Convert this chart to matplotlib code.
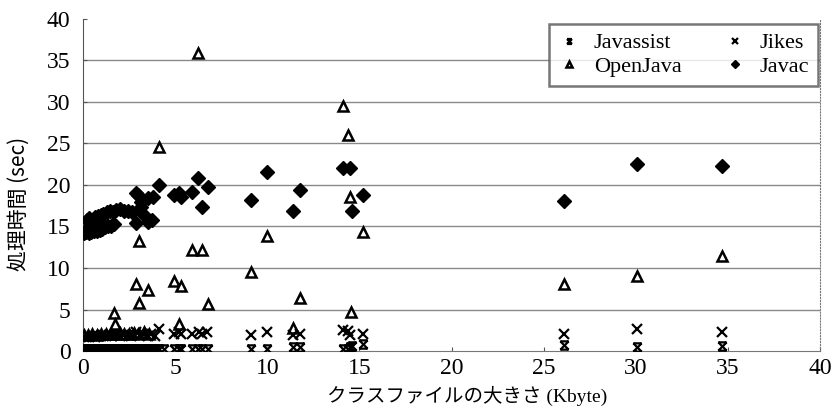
import numpy as np
import matplotlib
matplotlib.use('Agg')
import matplotlib.pyplot as plt
from matplotlib.path import Path

# Datos (tamano de clase en Kbyte, tiempo en sec)
javac_x = [0.05, 0.15, 0.3, 0.45, 0.6, 0.75, 0.9, 1.05, 1.2, 1.35, 1.5, 1.7,
           0.2, 0.35, 0.5, 0.65, 0.8, 0.95, 1.1, 1.3, 1.45, 1.6, 1.8, 2.0, 2.2, 2.45, 2.65,
           0.4, 0.7, 1.0,
           2.85, 3.0, 3.15, 3.15, 3.3, 2.9, 3.5, 3.75, 3.5, 3.8, 4.1,
           4.95, 5.2, 5.3, 5.9, 6.25, 6.45, 6.8, 9.1, 10.0, 11.4, 11.8, 14.1, 14.5, 14.6,
           15.2, 26.1, 30.05, 34.7]
javac_y = [14.2, 14.3, 14.2, 14.3, 14.4, 14.5, 14.6, 14.7, 14.9, 15.0, 15.1, 15.3,
           15.8, 16.0, 15.7, 16.1, 16.3, 16.4, 16.5, 16.7, 16.9, 16.8, 17.0, 17.1, 16.9, 16.9, 16.8,
           15.1, 15.3, 15.6,
           19.0, 18.8, 18.0, 17.4, 16.4, 15.4, 15.5, 15.8, 18.4, 18.5, 20.0,
           18.8, 19.0, 18.5, 19.2, 20.9, 17.4, 19.8, 18.2, 21.6, 16.9, 19.4, 22.0, 22.0, 16.9,
           18.8, 18.1, 22.5, 22.3]

oj_x = [0.05, 0.25, 0.5, 0.75, 1.0, 1.25, 1.5, 1.75, 2.0, 2.25, 2.5, 2.75, 3.0, 3.3, 3.6,
        1.7, 1.75, 2.9, 3.05, 3.05, 3.5, 4.1, 4.95, 5.2, 5.3,
        5.9, 6.25, 6.45, 6.8, 9.1, 10.0, 11.4, 11.8, 14.1, 14.4,
        14.5, 14.55, 15.2, 26.1, 30.05, 34.7]
oj_y = [1.9, 1.9, 2.0, 1.9, 2.0, 2.1, 2.0, 2.1, 2.2, 2.0, 2.1, 2.2, 2.0, 2.3, 2.1,
        4.6, 3.2, 8.1, 13.3, 5.8, 7.3, 24.6, 8.4, 3.3, 7.8,
        12.2, 35.9, 12.2, 5.7, 9.5, 13.8, 2.8, 6.4, 29.5, 26.0,
        18.6, 4.7, 14.3, 8.1, 9.0, 11.5]

jikes_x = [0.05, 0.2, 0.35, 0.5, 0.65, 0.8, 0.95, 1.1, 1.25, 1.4, 1.55, 1.7, 1.85, 2.0, 2.15,
           2.3, 2.45, 2.6, 2.75,
           2.9, 3.1, 3.3, 3.5, 3.7, 3.9, 4.15, 4.95, 5.2, 5.3,
           5.9, 6.3, 6.45, 6.75, 9.1, 10.0, 11.4, 11.8, 14.1, 14.4,
           14.5, 15.2, 26.1, 30.05, 34.7]
jikes_y = [1.7, 1.8, 1.7, 1.8, 1.7, 1.8, 1.8, 1.9, 1.8, 1.9, 1.8, 1.9, 1.9, 1.8, 1.9,
           2.0, 1.9, 1.8, 1.9,
           2.3, 1.9, 2.1, 1.8, 2.0, 1.8, 2.7, 2.1, 2.3, 2.0,
           2.1, 2.3, 2.0, 2.3, 1.9, 2.3, 1.9, 2.1, 2.5, 2.4,
           1.9, 2.1, 2.1, 2.6, 2.3]

jvst_x = [0.05, 0.2, 0.35, 0.5, 0.65, 0.8, 0.95, 1.1, 1.25, 1.4, 1.55, 1.7, 1.85, 2.0, 2.15,
          2.3, 2.45, 2.6, 2.75, 2.9, 3.05, 3.2, 3.35, 3.5, 3.65, 3.8, 3.95, 4.1, 4.4,
          4.95, 5.2, 5.3, 5.9, 6.25, 6.45, 6.8, 9.1, 10.0, 11.4,
          11.8, 14.1, 14.4, 14.5, 14.6, 15.2, 26.1, 30.05, 34.7]
jvst_y = [0.3, 0.2, 0.3, 0.25, 0.3, 0.2, 0.3, 0.25, 0.3, 0.2, 0.3, 0.25, 0.3, 0.2, 0.3,
          0.25, 0.3, 0.2, 0.3, 0.25, 0.3, 0.2, 0.3, 0.25, 0.3, 0.2, 0.3, 0.25, 0.3,
          0.2, 0.2, 0.2, 0.2, 0.2, 0.2, 0.2, 0.2, 0.2, 0.5,
          0.5, 0.2, 0.3, 0.5, 0.6, 0.8, 0.7, 0.5, 0.6]

# marcador tipo Excel: x con barras arriba y abajo
star_verts = [(-1, -1), (1, 1), (-1, 1), (1, -1), (-1, 1), (1, 1), (-1, -1), (1, -1)]
star_codes = [Path.MOVETO, Path.LINETO] * 4
star_marker = Path(star_verts, star_codes)

serif = ['Liberation Serif', 'Noto Sans CJK JP']

fig = plt.figure(figsize=(8.32, 4.12), dpi=100)
ax = fig.add_axes([0.0998, 0.148, 0.8858, 0.806])

ax.plot(jvst_x, jvst_y, linestyle='none', marker=star_marker, ms=6, mew=1.6,
        mec='black', mfc='none', label='Javassist', zorder=3)
ax.plot(oj_x, oj_y, linestyle='none', marker='^', ms=6.5, mew=1.8,
        mec='black', mfc='white', label='OpenJava', zorder=3)
ax.plot(jikes_x, jikes_y, linestyle='none', marker='x', ms=6.5, mew=1.6,
        color='black', label='Jikes', zorder=3)
ax.plot(javac_x, javac_y, linestyle='none', marker='D', ms=7,
        color='black', label='Javac', zorder=4)

ax.set_xlim(0, 40)
ax.set_ylim(0, 40)
ax.set_xticks(np.arange(0, 41, 5))
ax.set_yticks(np.arange(0, 41, 5))
for y in range(5, 40, 5):
    ax.axhline(y, color='#8a8a8a', lw=1, zorder=1)

ax.spines['top'].set_visible(False)
ax.spines['right'].set_linestyle(':')
ax.spines['right'].set_color('#777777')
ax.spines['bottom'].set_color('#777777')
ax.spines['left'].set_color('#555555')
ax.tick_params(direction='in', length=3, color='#555555', labelsize=17)
ax.tick_params(axis='y', pad=9)
ax.tick_params(axis='x', pad=5)
for lab in ax.get_xticklabels() + ax.get_yticklabels():
    lab.set_family(serif)

ax.set_xlabel('クラスファイルの大きさ (Kbyte)', family=serif, fontsize=14)
ax.xaxis.set_label_coords(0.521, -0.105)
ax.set_ylabel('処理時間 (sec)', family=['Noto Sans CJK JP', 'DejaVu Sans'], fontsize=15)
ax.yaxis.set_label_coords(-0.072, 0.443)

leg = ax.legend(ncol=2, loc='upper right', bbox_to_anchor=(0.997, 0.985),
                borderaxespad=0, prop={'family': serif, 'size': 16}, frameon=True,
                fancybox=False, markerscale=0.6, handlelength=1.0, handletextpad=0.6,
                columnspacing=1.9, borderpad=0.4, labelspacing=0.15)
leg.get_frame().set_edgecolor('#555555')
leg.get_frame().set_linewidth(1.8)

fig.savefig('out.png', dpi=100)
